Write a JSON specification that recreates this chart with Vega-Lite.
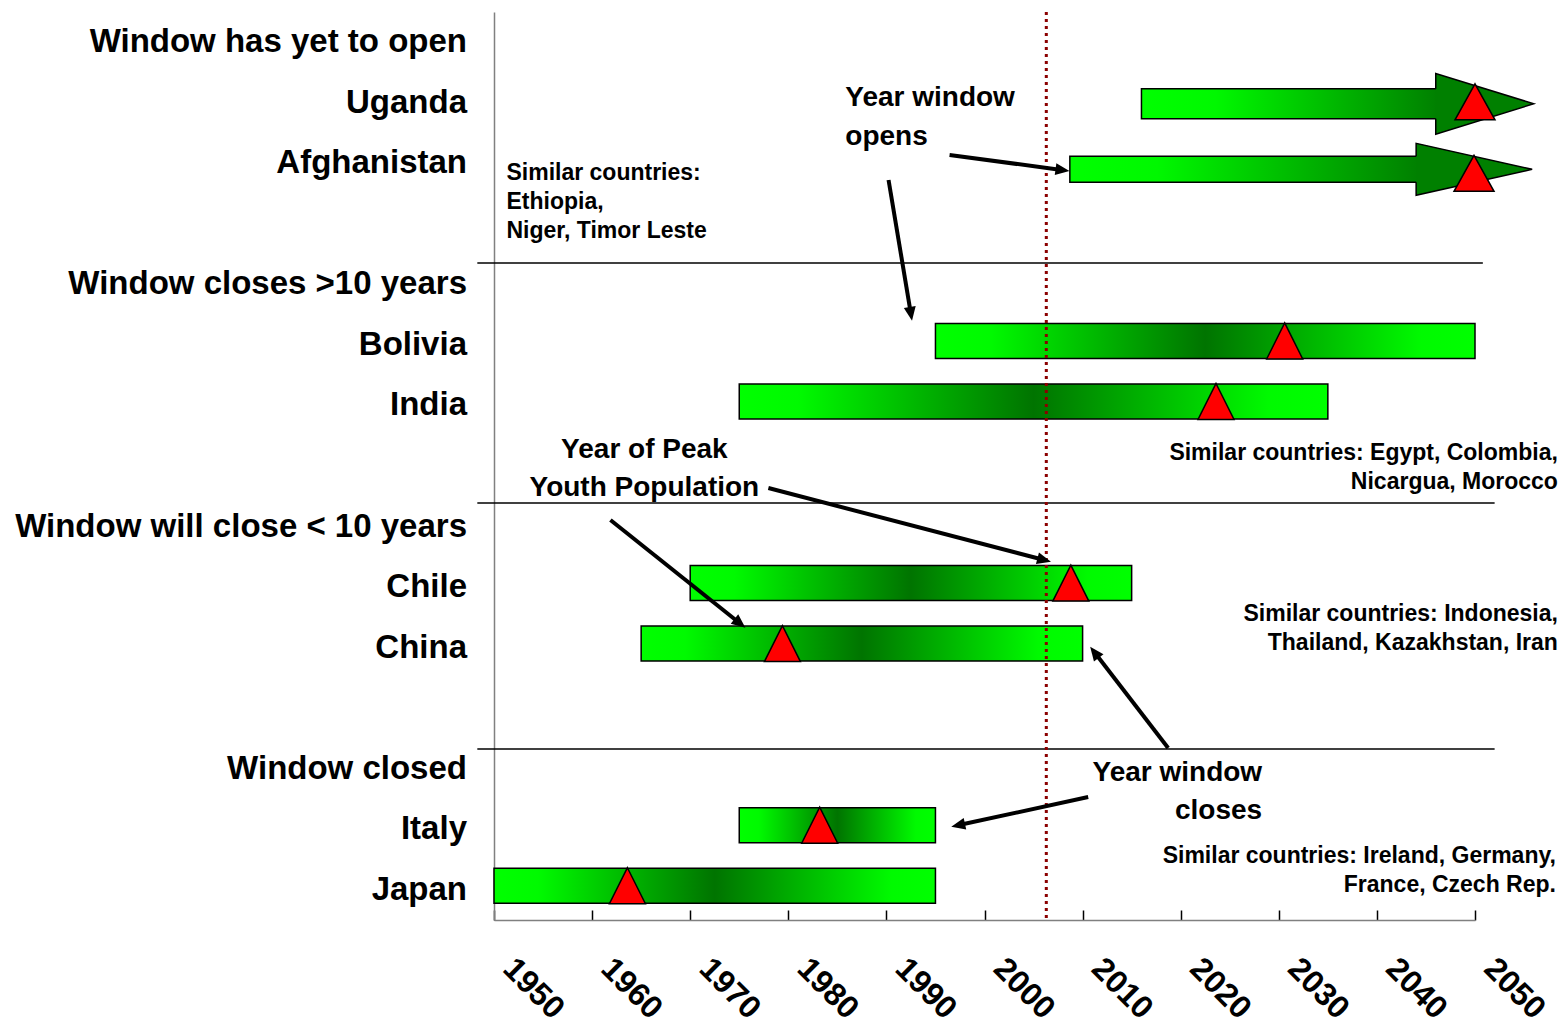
{
  "$schema": "https://vega.github.io/schema/vega-lite/v6.json",
  "autosize": {"type": "none"},
  "padding": {"left": 494, "top": 12, "right": 91, "bottom": 105},
  "width": 981,
  "height": 908,
  "background": "white",
  "config": {"view": {"stroke": null}, "font": "Liberation Sans", "scale": {"continuousPadding": 0}},
  "datasets": {
    "labels": [
      {"row": 0, "label": "Window has yet to open"},
      {"row": 1, "label": "Uganda"},
      {"row": 2, "label": "Afghanistan"},
      {"row": 4, "label": "Window closes >10 years"},
      {"row": 5, "label": "Bolivia"},
      {"row": 6, "label": "India"},
      {"row": 8, "label": "Window will close < 10 years"},
      {"row": 9, "label": "Chile"},
      {"row": 10, "label": "China"},
      {"row": 12, "label": "Window closed"},
      {"row": 13, "label": "Italy"},
      {"row": 14, "label": "Japan"}
    ],
    "windows": [
      {"country": "Bolivia", "row": 5, "open": 1995, "close": 2050, "peak": 2030.6},
      {"country": "India", "row": 6, "open": 1975, "close": 2035, "peak": 2023.6},
      {"country": "Chile", "row": 9, "open": 1970, "close": 2015, "peak": 2008.8},
      {"country": "China", "row": 10, "open": 1965, "close": 2010, "peak": 1979.4},
      {"country": "Italy", "row": 13, "open": 1975, "close": 1995, "peak": 1983.2},
      {"country": "Japan", "row": 14, "open": 1950, "close": 1995, "peak": 1963.6}
    ],
    "opening": [
      {"country": "Uganda", "row": 1, "open": 2016.0, "shaft_end": 2046.0, "peak": 2050.0},
      {"country": "Afghanistan", "row": 2, "open": 2008.7, "shaft_end": 2044.0, "peak": 2049.9}
    ],
    "separators": [
      {"y": 3.647, "from": 1948.3, "to": 2050.8},
      {"y": 7.612, "from": 1948.3, "to": 2052.0},
      {"y": 11.676, "from": 1948.3, "to": 2052.0}
    ],
    "today": [{"year": 2006.3}],
    "pointers": [
      {"id": 1, "x": 1996.44, "y": 1.862, "x2": 2007.85, "y2": 2.109},
      {"id": 2, "x": 1990.22, "y": 2.276, "x2": 1992.48, "y2": 4.470},
      {"id": 3, "x": 1977.97, "y": 7.364, "x2": 2005.99, "y2": 8.548},
      {"id": 4, "x": 1961.87, "y": 7.893, "x2": 1974.99, "y2": 9.589},
      {"id": 5, "x": 2018.72, "y": 11.659, "x2": 2011.27, "y2": 10.090},
      {"id": 6, "x": 2010.57, "y": 12.469, "x2": 1997.41, "y2": 12.931}
    ],
    "notes": [
      {"kind": "big-left", "x": 1985.81, "y": 0.92, "text": ["Year window", "opens"]},
      {"kind": "big-center", "x": 1965.33, "y": 6.74, "text": ["Year of Peak", "Youth Population"]},
      {"kind": "big-right", "x": 2028.30, "y": 12.07, "text": ["Year window", "closes"]},
      {"kind": "small-left", "x": 1951.27, "y": 2.16, "text": ["Similar countries:", "Ethiopia,", "Niger, Timor Leste"]},
      {"kind": "small-right", "x": 2058.45, "y": 6.78, "text": ["Similar countries: Egypt, Colombia,", "Nicargua, Morocco"]},
      {"kind": "small-right", "x": 2058.45, "y": 9.44, "text": ["Similar countries: Indonesia,", "Thailand, Kazakhstan,  Iran"]},
      {"kind": "small-right", "x": 2058.25, "y": 13.45, "text": ["Similar countries: Ireland, Germany,", "France, Czech Rep."]}
    ]
  },
  "layer": [
    {
      "data": {"name": "separators"},
      "mark": {"type": "rule", "color": "black", "strokeWidth": 1.5},
      "encoding": {
        "x": {"field": "from", "type": "quantitative", "title": null,
              "scale": {"domain": [1950, 2050], "nice": false, "zero": false, "padding": 0},
              "axis": {"values": [1950, 1960, 1970, 1980, 1990, 2000, 2010, 2020, 2030, 2040, 2050],
                       "format": "d", "labelAngle": 45, "labelAlign": "left", "labelBaseline": "middle",
                       "labelFontSize": 32, "labelFontWeight": "bold", "labelFont": "Liberation Sans",
                       "labelColor": "black", "labelPadding": 53, "labelOffset": 14, "tickSize": -10, "tickColor": "black",
                       "tickWidth": 1.5, "domainColor": "#808080", "domainWidth": 1.5, "grid": false,
                       "labelOverlap": false, "labelFlush": false, "title": null}},
        "x2": {"field": "to"},
        "y": {"field": "y", "type": "quantitative", "title": null,
              "scale": {"domain": [-0.5, 14.5], "reverse": true, "nice": false, "zero": false, "padding": 0},
              "axis": {"domain": true, "domainColor": "#808080", "domainWidth": 1.5, "ticks": false,
                       "labels": false, "grid": false, "title": null}}
      }
    },
    {
      "data": {"name": "windows"},
      "mark": {"type": "bar", "height": 35, "yOffset": -4, "stroke": "black", "strokeWidth": 1.5,
               "fill": {"gradient": "linear", "x1": 0, "x2": 1, "y1": 0, "y2": 0,
                        "stops": [{"offset": 0, "color": "#00FF00"}, {"offset": 0.1, "color": "#00FA00"},
                                  {"offset": 0.5, "color": "#007400"}, {"offset": 0.9, "color": "#00FA00"},
                                  {"offset": 1, "color": "#00FF00"}]}},
      "encoding": {
        "x": {"field": "open", "type": "quantitative", "title": null},
        "x2": {"field": "close"},
        "y": {"field": "row", "type": "quantitative", "title": null}
      }
    },
    {
      "data": {"name": "today"},
      "mark": {"type": "rule", "color": "#8B0000", "strokeWidth": 3, "strokeDash": [3, 4]},
      "encoding": {"x": {"field": "year", "type": "quantitative", "title": null}}
    },
    {
      "data": {"name": "windows"},
      "mark": {"type": "point", "shape": "M0,-1L1,1L-1,1Z", "size": 1296, "filled": true, "fill": "red",
               "stroke": "black", "strokeWidth": 1.5, "opacity": 1, "yOffset": -4},
      "encoding": {
        "x": {"field": "peak", "type": "quantitative", "title": null},
        "y": {"field": "row", "type": "quantitative", "title": null}
      }
    },
    {
      "data": {"name": "opening"},
      "transform": [{"filter": "datum.country == 'Uganda'"}],
      "layer": [
        {
          "mark": {"type": "bar", "height": 30, "yOffset": 1, "x2Offset": 2, "stroke": "black", "strokeWidth": 1.5,
                   "fill": {"gradient": "linear", "x1": 0, "x2": 1, "y1": 0, "y2": 0,
                            "stops": [{"offset": 0, "color": "#00FF00"}, {"offset": 0.25, "color": "#00F800"},
                                      {"offset": 1, "color": "#008000"}]}},
          "encoding": {
            "x": {"field": "open", "type": "quantitative", "title": null},
            "x2": {"field": "shaft_end"},
            "y": {"field": "row", "type": "quantitative", "title": null}
          }
        },
        {
          "mark": {"type": "point", "shape": "M0,-0.306L0,-0.62L2,0L0,0.62L0,0.306", "size": 9604, "filled": true,
                   "fill": "#008000", "stroke": "black", "strokeWidth": 1.5, "opacity": 1, "yOffset": 1},
          "encoding": {
            "x": {"field": "shaft_end", "type": "quantitative", "title": null},
            "y": {"field": "row", "type": "quantitative", "title": null}
          }
        },
        {
          "mark": {"type": "point", "shape": "M0,-0.9L1,0.9L-1,0.9Z", "size": 1600, "filled": true, "fill": "red",
                   "stroke": "black", "strokeWidth": 1.5, "opacity": 1, "yOffset": -1},
          "encoding": {
            "x": {"field": "peak", "type": "quantitative", "title": null},
            "y": {"field": "row", "type": "quantitative", "title": null}
          }
        }
      ]
    },
    {
      "data": {"name": "opening"},
      "transform": [{"filter": "datum.country == 'Afghanistan'"}],
      "layer": [
        {
          "mark": {"type": "bar", "height": 26, "yOffset": 6, "x2Offset": 2, "stroke": "black", "strokeWidth": 1.5,
                   "fill": {"gradient": "linear", "x1": 0, "x2": 1, "y1": 0, "y2": 0,
                            "stops": [{"offset": 0, "color": "#00FF00"}, {"offset": 0.25, "color": "#00F800"},
                                      {"offset": 1, "color": "#008000"}]}},
          "encoding": {
            "x": {"field": "open", "type": "quantitative", "title": null},
            "x2": {"field": "shaft_end"},
            "y": {"field": "row", "type": "quantitative", "title": null}
          }
        },
        {
          "mark": {"type": "point", "shape": "M0,-0.224L0,-0.448L2,0L0,0.448L0,0.224", "size": 13456, "filled": true,
                   "fill": "#008000", "stroke": "black", "strokeWidth": 1.5, "opacity": 1, "yOffset": 6},
          "encoding": {
            "x": {"field": "shaft_end", "type": "quantitative", "title": null},
            "y": {"field": "row", "type": "quantitative", "title": null}
          }
        },
        {
          "mark": {"type": "point", "shape": "M0,-0.9L1,0.9L-1,0.9Z", "size": 1600, "filled": true, "fill": "red",
                   "stroke": "black", "strokeWidth": 1.5, "opacity": 1, "yOffset": 10},
          "encoding": {
            "x": {"field": "peak", "type": "quantitative", "title": null},
            "y": {"field": "row", "type": "quantitative", "title": null}
          }
        }
      ]
    },
    {
      "data": {"name": "pointers"},
      "layer": [
        {
          "mark": {"type": "rule", "color": "black", "strokeWidth": 4},
          "encoding": {
            "x": {"field": "x", "type": "quantitative", "title": null},
            "y": {"field": "y", "type": "quantitative", "title": null},
            "x2": {"field": "x2"},
            "y2": {"field": "y2"}
          }
        },
        {"transform": [{"filter": "datum.id == 1"}],
         "mark": {"type": "point", "shape": "M0,-0.8L-0.6,0.6L0.6,0.6Z", "size": 400, "filled": true, "color": "black", "opacity": 1, "angle": 97.6},
         "encoding": {"x": {"field": "x2", "type": "quantitative", "title": null}, "y": {"field": "y2", "type": "quantitative", "title": null}}},
        {"transform": [{"filter": "datum.id == 2"}],
         "mark": {"type": "point", "shape": "M0,-0.8L-0.6,0.6L0.6,0.6Z", "size": 400, "filled": true, "color": "black", "opacity": 1, "angle": 170.6},
         "encoding": {"x": {"field": "x2", "type": "quantitative", "title": null}, "y": {"field": "y2", "type": "quantitative", "title": null}}},
        {"transform": [{"filter": "datum.id == 3"}],
         "mark": {"type": "point", "shape": "M0,-0.8L-0.6,0.6L0.6,0.6Z", "size": 400, "filled": true, "color": "black", "opacity": 1, "angle": 104.6},
         "encoding": {"x": {"field": "x2", "type": "quantitative", "title": null}, "y": {"field": "y2", "type": "quantitative", "title": null}}},
        {"transform": [{"filter": "datum.id == 4"}],
         "mark": {"type": "point", "shape": "M0,-0.8L-0.6,0.6L0.6,0.6Z", "size": 400, "filled": true, "color": "black", "opacity": 1, "angle": 128.6},
         "encoding": {"x": {"field": "x2", "type": "quantitative", "title": null}, "y": {"field": "y2", "type": "quantitative", "title": null}}},
        {"transform": [{"filter": "datum.id == 5"}],
         "mark": {"type": "point", "shape": "M0,-0.8L-0.6,0.6L0.6,0.6Z", "size": 400, "filled": true, "color": "black", "opacity": 1, "angle": 322.4},
         "encoding": {"x": {"field": "x2", "type": "quantitative", "title": null}, "y": {"field": "y2", "type": "quantitative", "title": null}}},
        {"transform": [{"filter": "datum.id == 6"}],
         "mark": {"type": "point", "shape": "M0,-0.8L-0.6,0.6L0.6,0.6Z", "size": 400, "filled": true, "color": "black", "opacity": 1, "angle": 257.8},
         "encoding": {"x": {"field": "x2", "type": "quantitative", "title": null}, "y": {"field": "y2", "type": "quantitative", "title": null}}}
      ]
    },
    {
      "data": {"name": "labels"},
      "mark": {"type": "text", "align": "right", "baseline": "middle", "dx": -27, "fontSize": 33,
               "fontWeight": "bold", "font": "Liberation Sans", "color": "black"},
      "encoding": {
        "x": {"datum": 1950, "type": "quantitative"},
        "y": {"field": "row", "type": "quantitative", "title": null},
        "text": {"field": "label", "type": "nominal"}
      }
    },
    {
      "data": {"name": "notes"},
      "transform": [{"filter": "datum.kind == 'big-left'"}],
      "mark": {"type": "text", "align": "left", "baseline": "middle", "fontSize": 28, "lineHeight": 39,
               "lineBreak": "\n", "fontWeight": "bold", "font": "Liberation Sans", "color": "black"},
      "encoding": {
        "x": {"field": "x", "type": "quantitative", "title": null},
        "y": {"field": "y", "type": "quantitative", "title": null},
        "text": {"field": "text", "type": "nominal"}
      }
    },
    {
      "data": {"name": "notes"},
      "transform": [{"filter": "datum.kind == 'big-center'"}],
      "mark": {"type": "text", "align": "center", "baseline": "middle", "fontSize": 28, "lineHeight": 38,
               "lineBreak": "\n", "fontWeight": "bold", "font": "Liberation Sans", "color": "black"},
      "encoding": {
        "x": {"field": "x", "type": "quantitative", "title": null},
        "y": {"field": "y", "type": "quantitative", "title": null},
        "text": {"field": "text", "type": "nominal"}
      }
    },
    {
      "data": {"name": "notes"},
      "transform": [{"filter": "datum.kind == 'big-right'"}],
      "mark": {"type": "text", "align": "right", "baseline": "middle", "fontSize": 28, "lineHeight": 38,
               "lineBreak": "\n", "fontWeight": "bold", "font": "Liberation Sans", "color": "black"},
      "encoding": {
        "x": {"field": "x", "type": "quantitative", "title": null},
        "y": {"field": "y", "type": "quantitative", "title": null},
        "text": {"field": "text", "type": "nominal"}
      }
    },
    {
      "data": {"name": "notes"},
      "transform": [{"filter": "datum.kind == 'small-left'"}],
      "mark": {"type": "text", "align": "left", "baseline": "middle", "fontSize": 23, "lineHeight": 29,
               "lineBreak": "\n", "fontWeight": "bold", "font": "Liberation Sans", "color": "black"},
      "encoding": {
        "x": {"field": "x", "type": "quantitative", "title": null},
        "y": {"field": "y", "type": "quantitative", "title": null},
        "text": {"field": "text", "type": "nominal"}
      }
    },
    {
      "data": {"name": "notes"},
      "transform": [{"filter": "datum.kind == 'small-right'"}],
      "mark": {"type": "text", "align": "right", "baseline": "middle", "fontSize": 23, "lineHeight": 29,
               "lineBreak": "\n", "fontWeight": "bold", "font": "Liberation Sans", "color": "black"},
      "encoding": {
        "x": {"field": "x", "type": "quantitative", "title": null},
        "y": {"field": "y", "type": "quantitative", "title": null},
        "text": {"field": "text", "type": "nominal"}
      }
    }
  ]
}
